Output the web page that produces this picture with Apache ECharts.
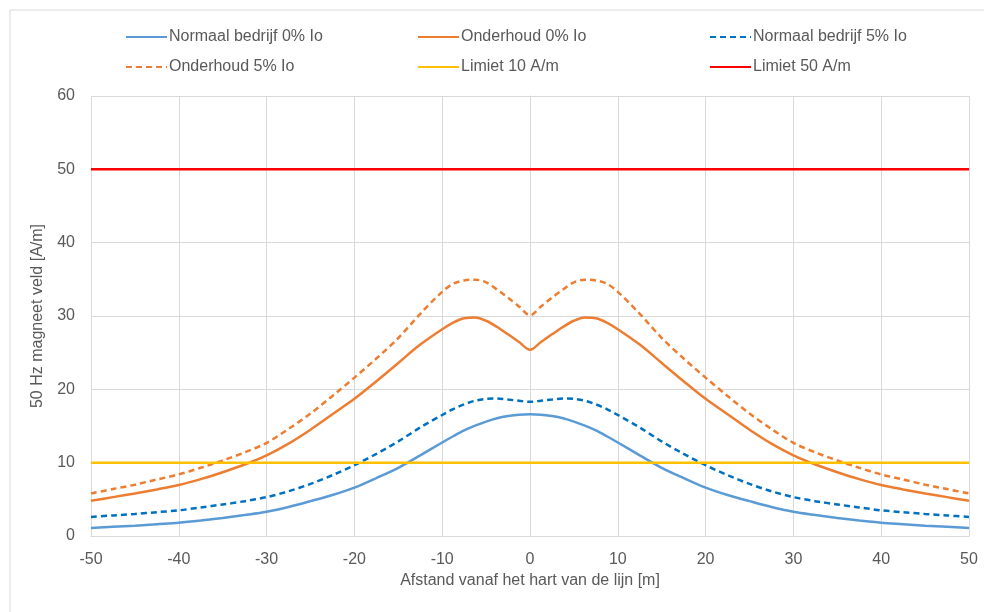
<!DOCTYPE html>
<html>
<head>
<meta charset="utf-8">
<script src="https://cdn.jsdelivr.net/npm/echarts@6/dist/echarts.min.js"></script>
<style>
html,body{margin:0;padding:0;background:#fff;}
#c{width:984px;height:612px;}
</style>
</head>
<body>
<div id="c"></div>
<script>
// Distance from the line centre [m] (left half; the chart is symmetric)
const xHalf = [-50, -47.5, -45, -42.5, -40, -37.5, -35, -32.5, -30, -27.5, -25, -22.5, -20, -17.5, -15, -12.5, -10, -8.75, -7.5, -6.25, -5, -3.75, -2.5, -1.25, 0];
// Values [A/m]
const normaal0   = [1.1, 1.25, 1.4, 1.6, 1.8, 2.1, 2.45, 2.85, 3.3, 3.95, 4.75, 5.6, 6.6, 7.9, 9.3, 11.0, 12.75, 13.6, 14.4, 15.05, 15.6, 16.05, 16.35, 16.55, 16.6];
const onderhoud0 = [4.8, 5.3, 5.8, 6.35, 6.95, 7.75, 8.7, 9.75, 11.0, 12.6, 14.5, 16.6, 18.7, 21.1, 23.6, 26.1, 28.2, 29.1, 29.7, 29.8, 29.35, 28.5, 27.5, 26.45, 25.4];
const normaal5   = [2.6, 2.8, 3.0, 3.25, 3.5, 3.9, 4.3, 4.75, 5.3, 6.1, 7.1, 8.3, 9.65, 11.2, 12.9, 14.8, 16.5, 17.3, 17.95, 18.45, 18.7, 18.75, 18.6, 18.45, 18.3];
const onderhoud5 = [5.8, 6.4, 7.0, 7.7, 8.4, 9.3, 10.3, 11.4, 12.7, 14.6, 16.7, 19.1, 21.6, 24.2, 27.0, 30.3, 33.3, 34.4, 34.85, 34.95, 34.6, 33.6, 32.5, 31.3, 30.1];
const limit10 = [10, 10];
const limit50 = [50, 50];
const limitX = [-50, 50];
const seriesNames = ['Normaal bedrijf 0% Io', 'Onderhoud 0% Io', 'Normaal bedrijf 5% Io', 'Onderhoud 5% Io', 'Limiet 10 A/m', 'Limiet 50 A/m'];

function mirror(xs, ys) {
  const pts = xs.map((x, i) => [x, ys[i]]);
  for (let i = xs.length - 2; i >= 0; i--) pts.push([-xs[i], ys[i]]);
  return pts;
}
function pair(xs, ys) { return xs.map((x, i) => [x, ys[i]]); }

const chart = echarts.init(document.getElementById('c'), null, {renderer: 'canvas'});
const font = 'Liberation Sans, Arial, sans-serif';
const txt = '#595959';

const legendPos = [
  [125, 29], [417, 29], [709, 29],
  [125, 59], [417, 59], [709, 59]
];
const legends = seriesNames.map((n, i) => ({
  data: [n], left: legendPos[i][0], top: legendPos[i][1],
  itemWidth: 41, itemHeight: 16, padding: 0, itemGap: 0,
  itemStyle: {color: 'rgba(0,0,0,0)', borderWidth: 0, opacity: 0},
  textStyle: {fontFamily: font, fontSize: 16, color: txt, padding: [0,0,0,-3]},
  selectedMode: false
}));

function lineSeries(name, data, color, dashed, smooth) {
  return {
    name, type: 'line', data, symbol: 'none',
    smooth: smooth ? 0.32 : false,
    lineStyle: {color, width: 2.5, type: dashed ? [6, 4] : 'solid'},
    itemStyle: {color},
    animation: false
  };
}

chart.setOption({
  backgroundColor: '#fff',
  animation: false,
  graphic: [{
    type: 'rect', left: 7.5, top: 7.5, shape: {x: 0, y: 0, width: 1000, height: 700},
    style: {fill: 'none', stroke: '#d9d9d9', lineWidth: 1}, silent: true, z: -10
  }],
  legend: legends,
  grid: {left: 91, right: 15, top: 96, bottom: 76, containLabel: false},
  xAxis: {
    type: 'value', min: -50, max: 50, interval: 10,
    name: 'Afstand vanaf het hart van de lijn [m]', nameLocation: 'middle', nameGap: 37,
    nameTextStyle: {fontFamily: font, fontSize: 16, color: txt},
    axisLine: {show: true, lineStyle: {color: '#d9d9d9', width: 1}},
    axisTick: {show: false},
    axisLabel: {fontFamily: font, fontSize: 16, color: txt, margin: 16},
    splitLine: {show: true, lineStyle: {color: '#d9d9d9', width: 1}}
  },
  yAxis: {
    type: 'value', min: 0, max: 60, interval: 10,
    name: '50 Hz magneet veld [A/m]', nameLocation: 'middle', nameGap: 45, nameRotate: 90,
    nameTextStyle: {fontFamily: font, fontSize: 16, color: txt},
    axisLine: {show: true, lineStyle: {color: '#d9d9d9', width: 1}},
    axisTick: {show: false},
    axisLabel: {fontFamily: font, fontSize: 16, color: txt, margin: 16},
    splitLine: {show: true, lineStyle: {color: '#d9d9d9', width: 1}}
  },
  series: [
    lineSeries(seriesNames[0], mirror(xHalf, normaal0), '#5B9BD5', false, true),
    lineSeries(seriesNames[1], mirror(xHalf, onderhoud0), '#ED7D31', false, true),
    lineSeries(seriesNames[2], mirror(xHalf, normaal5), '#0070C0', true, true),
    lineSeries(seriesNames[3], mirror(xHalf, onderhoud5), '#ED7D31', true, true),
    lineSeries(seriesNames[4], pair(limitX, limit10), '#FFC000', false, false),
    lineSeries(seriesNames[5], pair(limitX, limit50), '#FF0000', false, false)
  ]
});
</script>
</body>
</html>
